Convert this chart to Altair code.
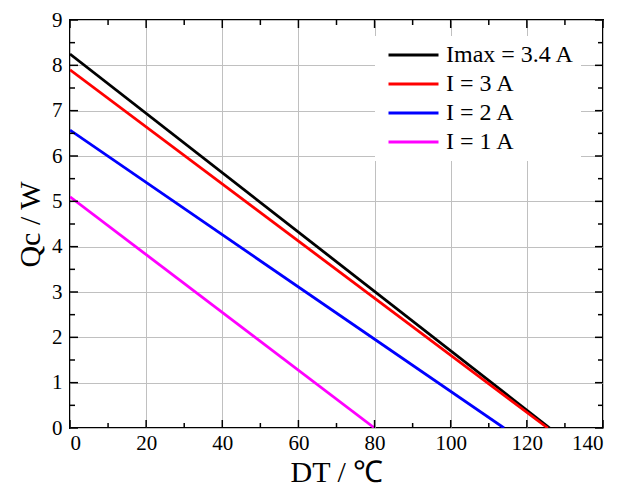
import altair as alt
import pandas as pd

series = ["Imax = 3.4 A", "I = 3 A", "I = 2 A", "I = 1 A"]
colors = ["#000000", "#ff0000", "#0000ff", "#ff00ff"]
dt_start = [0, 0, 0, 0]
qc_start = [8.25, 7.9, 6.57, 5.1]
dt_end = [126, 125.5, 114, 80]
qc_end = [0, 0, 0, 0]

rows = []
for s, x0, y0, x1, y1 in zip(series, dt_start, qc_start, dt_end, qc_end):
    rows.append({"series": s, "DT": x0, "Qc": y0, "o": 0})
    rows.append({"series": s, "DT": x1, "Qc": y1, "o": 1})
df = pd.DataFrame(rows)

x_major = list(range(0, 141, 20))
x_minor = list(range(10, 141, 20))
y_major = list(range(0, 10))
y_minor = [v + 0.5 for v in range(0, 9)]

W, H = 533, 408
FONT = "Liberation Serif"

xs = alt.Scale(domain=[0, 140], nice=False, zero=False)
ys = alt.Scale(domain=[0, 9], nice=False, zero=False)

lines = alt.Chart(df).mark_line(strokeWidth=2.8, clip=True).encode(
    x=alt.X("DT:Q", scale=xs, axis=alt.Axis(values=x_major, title="DT / ℃", grid=True,
            gridColor="#c0c0c0", gridWidth=1, ticks=False, domain=False,
            labelFont=FONT, labelFontSize=21, labelColor="black", labelPadding=4,
            titleFont=FONT, titleFontSize=30, titleFontWeight="normal", titleColor="black",
            titlePadding=4)),
    y=alt.Y("Qc:Q", scale=ys, axis=alt.Axis(values=y_major, title="Qc / W", grid=True,
            gridColor="#c0c0c0", gridWidth=1, ticks=False, domain=False,
            labelFont=FONT, labelFontSize=21, labelColor="black", labelPadding=8,
            titleFont=FONT, titleFontSize=30, titleFontWeight="normal", titleColor="black",
            titlePadding=6)),
    color=alt.Color("series:N", scale=alt.Scale(domain=series, range=colors),
                    sort=series,
                    legend=alt.Legend(title=None, orient="none", legendX=305, legendY=16,
                                      symbolType="stroke", symbolSize=2500, symbolStrokeWidth=3,
                                      clipHeight=26, rowPadding=3,
                                      labelFont=FONT, labelFontSize=24, labelColor="black",
                                      fillColor="white", padding=6,
                                      labelOffset=6, symbolOffset=6)),
    order="o:Q",
)

xt_major = alt.Chart(pd.DataFrame({"v": x_major})).mark_rule(color="black", strokeWidth=1.5).encode(
    x=alt.X("v:Q", scale=xs), y=alt.value(H), y2=alt.value(H - 8))
xt_major_top = alt.Chart(pd.DataFrame({"v": x_major})).mark_rule(color="black", strokeWidth=1.5).encode(
    x=alt.X("v:Q", scale=xs), y=alt.value(0), y2=alt.value(8))
xt_minor = alt.Chart(pd.DataFrame({"v": x_minor})).mark_rule(color="black", strokeWidth=1.5).encode(
    x=alt.X("v:Q", scale=xs), y=alt.value(H), y2=alt.value(H - 5))
xt_minor_top = alt.Chart(pd.DataFrame({"v": x_minor})).mark_rule(color="black", strokeWidth=1.5).encode(
    x=alt.X("v:Q", scale=xs), y=alt.value(0), y2=alt.value(5))
yt_major = alt.Chart(pd.DataFrame({"v": y_major})).mark_rule(color="black", strokeWidth=1.5).encode(
    y=alt.Y("v:Q", scale=ys), x=alt.value(0), x2=alt.value(8))
yt_major_r = alt.Chart(pd.DataFrame({"v": y_major})).mark_rule(color="black", strokeWidth=1.5).encode(
    y=alt.Y("v:Q", scale=ys), x=alt.value(W), x2=alt.value(W - 8))
yt_minor = alt.Chart(pd.DataFrame({"v": y_minor})).mark_rule(color="black", strokeWidth=1.5).encode(
    y=alt.Y("v:Q", scale=ys), x=alt.value(0), x2=alt.value(5))
yt_minor_r = alt.Chart(pd.DataFrame({"v": y_minor})).mark_rule(color="black", strokeWidth=1.5).encode(
    y=alt.Y("v:Q", scale=ys), x=alt.value(W), x2=alt.value(W - 5))

chart = alt.layer(lines, xt_major, xt_major_top, xt_minor, xt_minor_top,
                  yt_major, yt_major_r, yt_minor, yt_minor_r).properties(
    width=W, height=H,
    autosize=alt.AutoSizeParams(type="none"),
    padding={"left": 62, "top": 12, "right": 22, "bottom": 62},
    background="white",
).configure_view(stroke="black", strokeWidth=2)

chart.save("out.html", embed_options={"renderer": "svg", "actions": False})
